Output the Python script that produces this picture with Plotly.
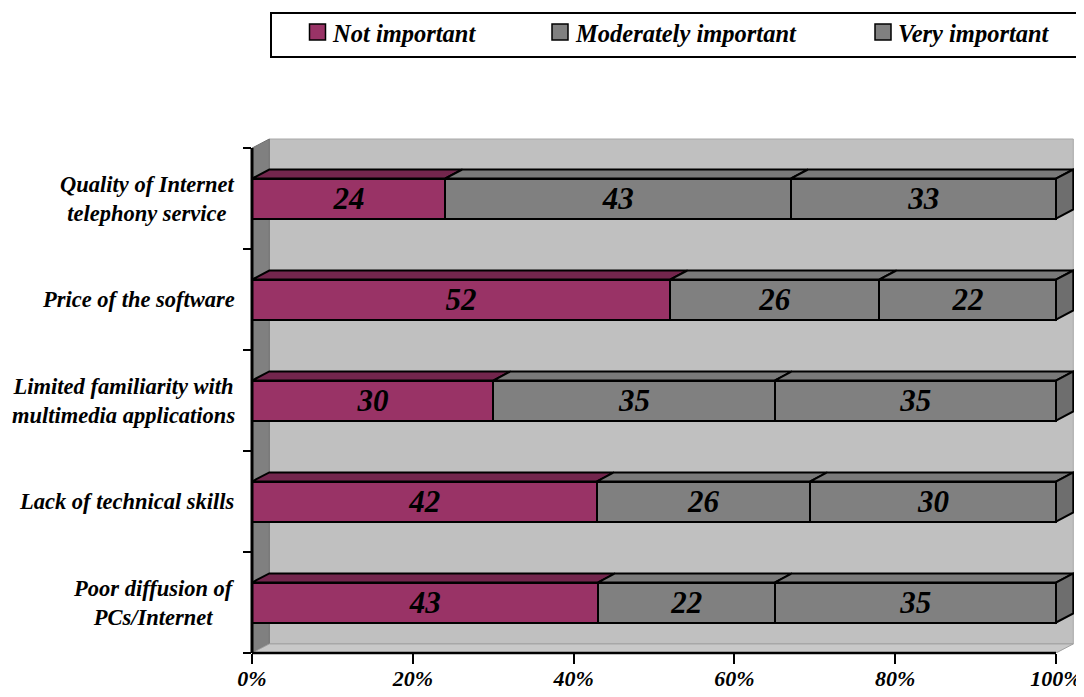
import plotly.graph_objects as go

# ---- data (bottom to top) ----
categories = [
    "Poor diffusion of<br>PCs/Internet",
    "Lack of technical skills",
    "Limited familiarity with<br>multimedia applications",
    "Price of the software",
    "Quality of Internet<br>telephony service",
]
not_important = [43, 42, 30, 52, 24]
moderately_important = [22, 26, 35, 26, 43]
very_important = [35, 30, 35, 22, 33]
series_names = ["Not important", "Moderately important", "Very important"]
x_tick_values = [0, 20, 40, 60, 80, 100]
x_tick_labels = ["0%", "20%", "40%", "60%", "80%", "100%"]

# ---- styles ----
colors = ["#993366", "#808080", "#808080"]
top_colors = ["#73264D", "#7A7A7A", "#7A7A7A"]
side_color = "#6E6E6E"
FONT = "Liberation Serif, Times New Roman, serif"
bar_w = 0.396
DX, DY = 2.15, 0.09  # 3D depth offsets in data units

series = [not_important, moderately_important, very_important]
ypos = list(range(len(categories)))

fig = go.Figure()
for name, vals, col in zip(series_names, series, colors):
    fig.add_trace(go.Bar(
        y=ypos, x=vals, orientation="h", name=name,
        marker=dict(color=col, line=dict(color="black", width=2)),
        width=bar_w, text=vals, texttemplate="%{text}",
        textposition="inside", insidetextanchor="middle", constraintext="none",
        textangle=0,
        textfont=dict(family=FONT, size=31, color="black", weight="bold", style="italic"),
        showlegend=False, hoverinfo="skip",
    ))

shapes = []
# walls (depth box)
shapes.append(dict(type="rect", xref="x", yref="y", x0=DX, x1=100 + DX,
                   y0=-0.5 + DY, y1=len(categories) - 0.5 + DY,
                   fillcolor="#C0C0C0", line=dict(color="#A8A8A8", width=1), layer="below"))
top = len(categories) - 0.5
shapes.append(dict(type="path", xref="x", yref="y",
                   path=f"M 0 -0.5 L 0 {top} L {DX} {top + DY} L {DX} {-0.5 + DY} Z",
                   fillcolor="#808080", line=dict(color="#707070", width=1), layer="below"))
shapes.append(dict(type="path", xref="x", yref="y",
                   path=f"M 0 -0.5 L {DX} {-0.5 + DY} L {100 + DX} {-0.5 + DY} L 100 -0.5 Z",
                   fillcolor="#C8C8C8", line=dict(color="#A0A0A0", width=1), layer="below"))

# 3D tops and right side of bars, from normalised cumulative values
for i, y in enumerate(ypos):
    total = sum(s[i] for s in series)
    cum = 0.0
    yt = y + bar_w / 2
    yb = y - bar_w / 2
    for k, s in enumerate(series):
        x0 = cum / total * 100
        cum += s[i]
        x1 = cum / total * 100
        shapes.append(dict(type="path", xref="x", yref="y",
                           path=f"M {x0} {yt} L {x0 + DX} {yt + DY} L {x1 + DX} {yt + DY} L {x1} {yt} Z",
                           fillcolor=top_colors[k], line=dict(color="black", width=2), layer="below"))
    shapes.append(dict(type="path", xref="x", yref="y",
                       path=f"M 100 {yb} L 100 {yt} L {100 + DX} {yt + DY} L {100 + DX} {yb + DY} Z",
                       fillcolor=side_color, line=dict(color="black", width=2), layer="below"))

# axis lines
shapes.append(dict(type="line", xref="paper", yref="y", x0=0, x1=0, y0=-0.5, y1=top,
                   line=dict(color="black", width=3), layer="above"))
shapes.append(dict(type="line", xref="x", yref="paper", x0=0, x1=100, y0=0, y1=0,
                   line=dict(color="black", width=2.5), layer="above"))

# ---- geometry (reference-pixel based; page body adds an 8px offset) ----
OFF = 8
FIG_W, FIG_H = 1084 - OFF, 697 - OFF
L_REF, PW = 252, 822
T_REF, PH = 138, 515
def px(xp):
    return (xp - L_REF) / PW
def py(yp):
    return (T_REF + PH - yp) / PH

# ---- manual legend (paper coords) ----
shapes.append(dict(type="rect", xref="paper", yref="paper",
                   x0=px(271), x1=px(1080), y0=py(57), y1=py(13),
                   line=dict(color="black", width=2), fillcolor="white"))
legend_marker_x = [317.5, 560, 883]
legend_text_x = [330, 573, 896]
annotations = []
for name, col, mx, tx in zip(series_names, colors, legend_marker_x, legend_text_x):
    shapes.append(dict(type="rect", xref="paper", yref="paper",
                       x0=px(mx - 8), x1=px(mx + 8), y0=py(40), y1=py(24),
                       fillcolor=col, line=dict(color="black", width=1.5)))
    annotations.append(dict(xref="paper", yref="paper", x=px(tx), y=py(33),
                            xanchor="left", yanchor="middle", showarrow=False, text=name,
                            font=dict(family=FONT, size=24.5, color="black", weight="bold", style="italic")))

# category labels (centered multi-line)
for y, cat in zip(ypos, categories):
    annotations.append(dict(xref="paper", yref="y", x=px(237), y=y,
                            xanchor="right", yanchor="middle", align="center",
                            showarrow=False, text=cat,
                            font=dict(family=FONT, size=22.5, color="black", weight="bold", style="italic")))

L = L_REF - OFF
T = T_REF - OFF
fig.update_layout(
    width=FIG_W, height=FIG_H,
    margin=dict(l=L, r=FIG_W - L - PW, t=T, b=FIG_H - T - PH, autoexpand=False),
    barmode="stack", barnorm="percent",
    plot_bgcolor="white", paper_bgcolor="white",
    shapes=shapes, annotations=annotations,
    showlegend=False,
    xaxis=dict(range=[0, PW / 8.04], tickmode="array", tickvals=x_tick_values,
               ticktext=x_tick_labels, ticks="outside", ticklen=10, tickwidth=2,
               tickcolor="black", showgrid=False, zeroline=False, showline=False,
               automargin=False, ticklabelstandoff=-4,
               tickfont=dict(family=FONT, size=22, color="black", weight="bold", style="italic")),
    yaxis=dict(range=[-0.5, 4.6], tickmode="array",
               tickvals=[v - 0.5 for v in ypos] + [len(ypos) - 0.5],
               ticks="outside", ticklen=8, tickwidth=2, tickcolor="black", automargin=False,
               showticklabels=False, showgrid=False, zeroline=False, showline=False),
)

fig.write_html("out.html")
